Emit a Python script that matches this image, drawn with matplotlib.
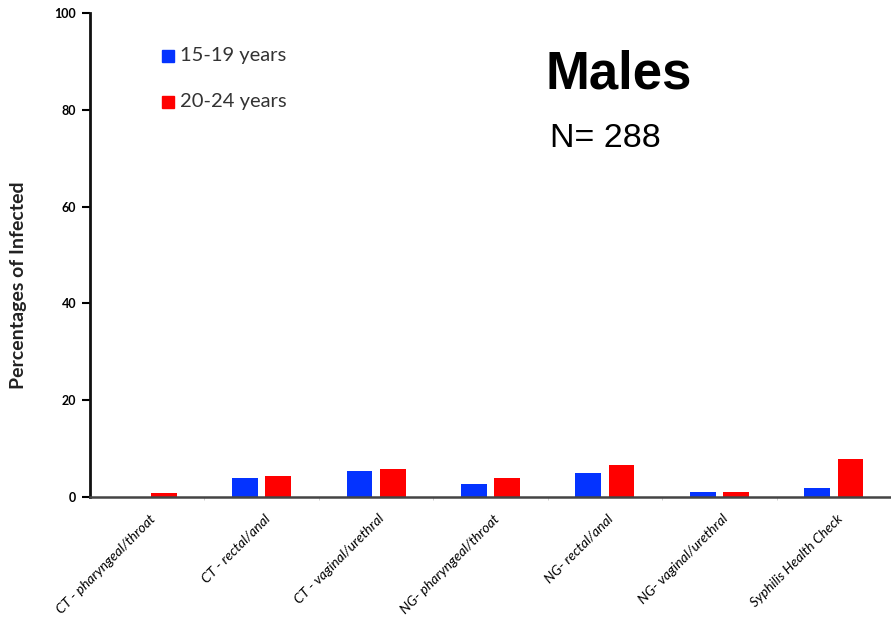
import numpy as np
import matplotlib
matplotlib.use("Agg")
import matplotlib.pyplot as plt

categories = ["CT - pharyngeal/throat", "CT - rectal/anal", "CT - vaginal/urethral",
              "NG- pharyngeal/throat", "NG- rectal/anal", "NG- vaginal/urethral",
              "Syphilis Health Check"]
age_15_19 = [0.0, 3.8, 5.4, 2.6, 4.8, 0.9, 1.7]
age_20_24 = [0.8, 4.3, 5.8, 3.8, 6.5, 1.05, 7.7]
yticks = [0, 20, 40, 60, 80, 100]

BLUE = "#0433ff"; RED = "#ff0000"
fig = plt.figure(figsize=(8.91, 6.2), dpi=100)
ax = fig.add_axes([0.101, 0.199, 0.899, 0.7795])

x = np.arange(len(categories))
w = 0.225; off = 0.145
ax.bar(x - off, age_15_19, width=w, color=BLUE, label="15-19 years")
ax.bar(x + off, age_20_24, width=w, color=RED, label="20-24 years")

ax.set_xlim(-0.5, 6.43); ax.set_ylim(0, 100)
ax.spines["top"].set_visible(False); ax.spines["right"].set_visible(False)
ax.spines["left"].set_linewidth(2.0); ax.spines["left"].set_color("#111111")
ax.spines["bottom"].set_linewidth(1.8); ax.spines["bottom"].set_color("#444444")

ax.set_yticks(yticks)
ax.set_yticklabels([str(v) for v in yticks], fontweight="bold", fontsize=9, family="Lato")
ax.tick_params(axis="y", length=6, width=1.5, direction="out", pad=4)
ax.set_xticks(x + 0.5)
ax.set_xticklabels([])
ax.tick_params(axis="x", length=2, width=0.5, color="#bbbbbb")
for xi, lab in zip(x, categories):
    ax.text(xi + 0.02, -3.3, lab, rotation=45, ha="right", va="top", rotation_mode="anchor",
            fontsize=10, style="italic", family="Lato", color="black")

ax.set_ylabel("Percentages of Infected", fontsize=14, fontweight="bold", family="Lato",
              color="#222222")
ax.yaxis.set_label_coords(-0.079, 0.438)

# legend drawn as squares + text
for yy, col, lab in [(91.2, BLUE, "15-19 years"), (81.7, RED, "20-24 years")]:
    ax.plot([0.183], [yy], marker="s", ms=9, color=col, ls="none")
    ax.text(0.29, yy, lab, fontsize=14.5, va="center", ha="left", family="Lato", color="#333333")

fig.text(0.694, 0.880, "Males", fontsize=38, fontweight="bold", family="Liberation Sans",
         ha="center", va="center")
fig.text(0.617, 0.763, "N= 288", fontsize=24.5, family="Liberation Sans", ha="left", va="baseline")

fig.savefig("out.png", dpi=100)
